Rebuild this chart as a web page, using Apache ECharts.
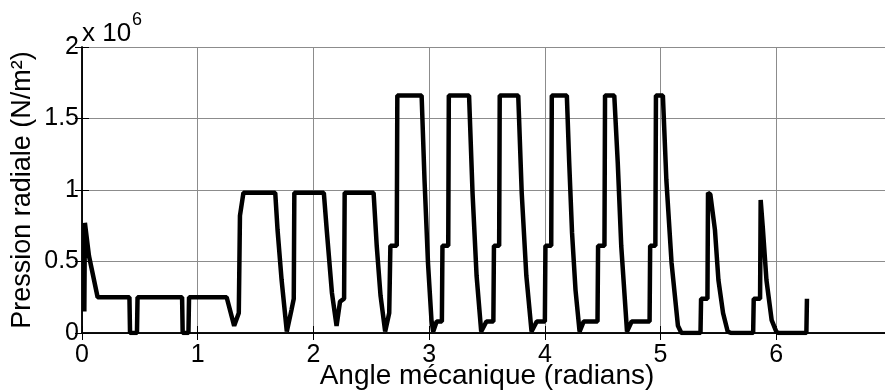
<!DOCTYPE html>
<html>
<head>
<meta charset="utf-8">
<script src="https://cdn.jsdelivr.net/npm/echarts@6/dist/echarts.min.js"></script>
<style>
  html, body { margin: 0; padding: 0; background: #fff; }
  #chart { width: 885px; height: 392px; }
</style>
</head>
<body>
<div id="chart"></div>
<script>
// angle mécanique (rad) and pression radiale (x 10^6 N/m²)
const angle = [
  0.02, 0.025, 0.06, 0.135, 0.41, 0.415, 0.475, 0.48, 0.865, 0.87, 0.92, 0.925,
  1.25, 1.315, 1.355, 1.365, 1.395, 1.67, 1.69, 1.725, 1.77, 1.81, 1.83, 1.835,
  2.09, 2.115, 2.16, 2.20, 2.23, 2.265, 2.27, 2.52, 2.547, 2.58, 2.62, 2.655, 2.665, 2.72, 2.725,
  2.935, 2.96, 2.99, 3.02, 3.035, 3.065, 3.11, 3.115, 3.165, 3.17,
  3.345, 3.375, 3.41, 3.45, 3.495, 3.555, 3.56, 3.605, 3.61,
  3.77, 3.80, 3.84, 3.885, 3.93, 4.0, 4.005, 4.055, 4.06,
  4.19, 4.21, 4.235, 4.265, 4.30, 4.335, 4.455, 4.46, 4.515, 4.52,
  4.60, 4.63, 4.66, 4.71, 4.75, 4.905, 4.91, 4.955, 4.96,
  5.02, 5.05, 5.095, 5.15, 5.18, 5.345, 5.35, 5.405, 5.41, 5.43, 5.47, 5.50, 5.54, 5.58, 5.61,
  5.80, 5.805, 5.86, 5.865, 5.885, 5.915, 5.96, 6.0, 6.02, 6.26, 6.265
];
const pressure = [
  0.15, 0.77, 0.54, 0.25, 0.25, 0, 0, 0.25, 0.25, 0, 0, 0.25,
  0.25, 0.05, 0.14, 0.82, 0.98, 0.98, 0.72, 0.37, 0.01, 0.16, 0.24, 0.98,
  0.98, 0.72, 0.28, 0.05, 0.22, 0.24, 0.98, 0.98, 0.61, 0.26, 0.01, 0.14, 0.61, 0.61, 1.66,
  1.66, 1.07, 0.49, 0.09, 0.01, 0.08, 0.08, 0.61, 0.61, 1.66,
  1.66, 0.98, 0.40, 0.01, 0.08, 0.08, 0.61, 0.61, 1.66,
  1.66, 0.98, 0.40, 0.01, 0.08, 0.08, 0.61, 0.61, 1.66,
  1.66, 1.2, 0.7, 0.3, 0.01, 0.08, 0.08, 0.61, 0.61, 1.66,
  1.66, 1.19, 0.61, 0.01, 0.08, 0.08, 0.61, 0.61, 1.66,
  1.66, 1.07, 0.49, 0.05, 0, 0, 0.24, 0.24, 0.98, 0.97, 0.72, 0.37, 0.14, 0.01, 0,
  0, 0.24, 0.24, 0.93, 0.72, 0.37, 0.09, 0.01, 0, 0, 0.24
];
const xTicks = [0, 7, 1];
const yTicks = [0, 2, 0.5];

const font = 'Liberation Sans, Arial, sans-serif';
const chart = echarts.init(document.getElementById('chart'));

const gridLine = { show: true, lineStyle: { color: '#8c8c8c', width: 1 } };
const border = { show: true, lineStyle: { color: '#000', width: 1.5 } };
const tickIn = { show: true, inside: true, length: 7, lineStyle: { color: '#000', width: 1 } };

chart.setOption({
  animation: false,
  backgroundColor: '#fff',
  // plot box runs a few px past the right edge of the picture
  grid: { left: 82, width: 810, top: 47, bottom: 59, outerBoundsMode: 'none', containLabel: false },
  xAxis: [
    {
      type: 'value', min: xTicks[0], max: xTicks[1], interval: xTicks[2],
      position: 'bottom',
      axisLine: border, axisTick: tickIn, splitLine: gridLine,
      axisLabel: {
        color: '#000', fontSize: 25, fontFamily: font, margin: 10,
        formatter: (v) => (v >= 7 ? '' : String(v))
      },
      name: 'Angle mécanique (radians)', nameLocation: 'middle', nameGap: 29,
      nameMoveOverlap: false,
      nameTextStyle: { color: '#000', fontSize: 28, fontFamily: font }
    },
    {
      type: 'value', min: xTicks[0], max: xTicks[1], interval: xTicks[2],
      position: 'top',
      axisLine: border, axisTick: tickIn, splitLine: { show: false },
      axisLabel: { show: false }
    }
  ],
  yAxis: [
    {
      type: 'value', min: yTicks[0], max: yTicks[1], interval: yTicks[2],
      position: 'left',
      axisLine: border, axisTick: tickIn, splitLine: gridLine,
      axisLabel: { color: '#000', fontSize: 25, fontFamily: font, margin: 3 },
      name: 'Pression radiale (N/m²)', nameLocation: 'middle', nameGap: 46,
      nameMoveOverlap: false,
      nameTextStyle: { color: '#000', fontSize: 27, fontFamily: font }
    },
    {
      type: 'value', min: yTicks[0], max: yTicks[1], interval: yTicks[2],
      position: 'right',
      axisLine: border, axisTick: tickIn, splitLine: { show: false },
      axisLabel: { show: false }
    }
  ],
  graphic: [
    { type: 'text', left: 82, top: 21, style: { text: 'x 10', fontSize: 26, fontFamily: font, fill: '#000' } },
    { type: 'text', left: 132, top: 11, style: { text: '6', fontSize: 18, fontFamily: font, fill: '#000' } }
  ],
  series: [
    {
      type: 'line',
      xAxisIndex: 0, yAxisIndex: 0,
      symbol: 'none',
      lineStyle: { color: '#000', width: 4.5 },
      data: angle.map((a, i) => [a, pressure[i]])
    }
  ]
});
</script>
</body>
</html>
